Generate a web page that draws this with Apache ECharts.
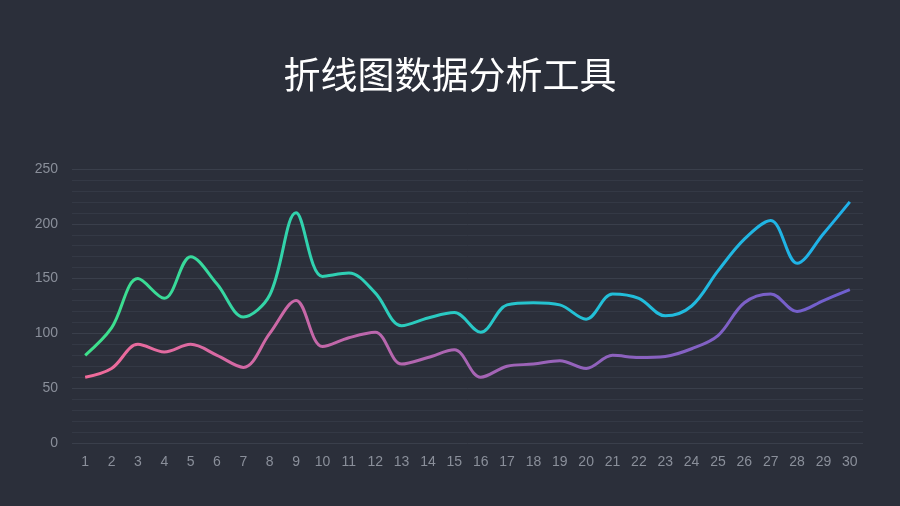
<!DOCTYPE html>
<html><head><meta charset="utf-8">
<script src="https://cdn.jsdelivr.net/npm/echarts@6/dist/echarts.min.js"></script>
<style>html,body{margin:0;padding:0;background:#2b2f3a;}#c{width:900px;height:506px;}</style>
</head><body><div id="c"></div>
<script>
const titleText = '折线图数据分析工具';
const categories = ['1','2','3','4','5','6','7','8','9','10','11','12','13','14','15','16','17','18','19','20','21','22','23','24','25','26','27','28','29','30'];
const seriesA = [80,105,150,132,170,145,115,135,210,152,155,137,107,114,119,101,126,128,126,113,136,132,116,125,157,186,203,164,191,220];
const seriesB = [60,68,90,83,90,80,69,100,130,88,96,101,72,78,85,60,70,72,75,68,80,78,79,86,98,128,136,120,130,140];

const chart = echarts.init(document.getElementById('c'));
const grad = (stops) => new echarts.graphic.LinearGradient(0,0,1,0, stops.map((c,i)=>({offset:i/(stops.length-1), color:c})));
chart.setOption({
  backgroundColor:'#2b2f3a',
  title:{text:titleText,left:'center',top:51,textStyle:{color:'#ffffff',fontSize:37,fontWeight:'normal',fontFamily:'Noto Sans CJK SC'}},
  grid:{left:72,right:37,top:169,bottom:63},
  xAxis:{type:'category',data:categories,boundaryGap:true,
    axisLine:{show:false},axisTick:{show:false},
    axisLabel:{color:'#8a8f9a',fontSize:14,margin:12,fontFamily:'Liberation Sans'}},
  yAxis:{type:'value',min:0,max:250,interval:50,
    axisLine:{show:false},axisTick:{show:false},
    axisLabel:{color:'#8a8f9a',fontSize:14,margin:14,fontFamily:'Liberation Sans'},
    splitLine:{lineStyle:{color:'#3a3f4b',width:1}},
    minorTick:{show:false,splitNumber:5},
    minorSplitLine:{show:true,lineStyle:{color:'#343945',width:1}}},
  series:[
    {type:'line',data:seriesA,smooth:0.35,showSymbol:false,symbol:'none',
     lineStyle:{width:3,color:grad(['#3ee08a','#2fd0b4','#22c0d8','#1fb0ea'])}},
    {type:'line',data:seriesB,smooth:0.35,showSymbol:false,symbol:'none',
     lineStyle:{width:3,color:grad(['#f26b9a','#c067aa','#9062bd','#6e5fcf'])}}
  ]
});
</script></body></html>
